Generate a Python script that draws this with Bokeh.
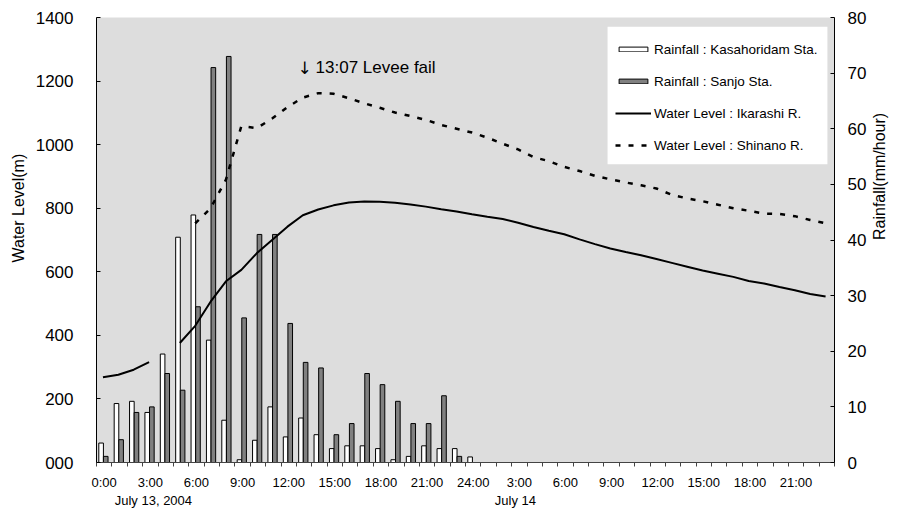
import math
import numpy as np
from bokeh.plotting import figure
from bokeh.models import (ColumnDataSource, Range1d, LinearAxis, FixedTicker,
                          Legend, LegendItem, Label, Title, BoxAnnotation)
from bokeh.transform import dodge
from bokeh.embed import file_html
from bokeh.resources import INLINE

nan = float("nan")

# ---- data ----
hours = list(range(48))                      # hour index from July 13 0:00
rain_hours = list(range(25))
rain_kasahoridam = [3.5, 10.6, 11, 9, 19.5, 40.5, 44.5, 22, 7.6, 0.5, 4, 10, 4.6,
                    8, 5, 2.5, 3, 3, 2.5, 0.5, 1.1, 3, 2.5, 2.5, 1]
rain_sanjo = [1.1, 4.1, 9, 10, 16, 13, 28, 71, 73, 26, 41, 41, 25,
              18, 17, 5, 7, 16, 14, 11, 7, 7, 12, 1.1, 0]
level_ikarashi = [268, 276, 292, 316, nan, 376, 430, 506, 570, 606, 658, 700,
                  742, 778, 796, 809, 818, 821, 820, 817, 812, 805, 797, 790,
                  781, 773, 766, 754, 741, 729, 718, 702, 687, 673, 662, 652,
                  640, 628, 616, 604, 594, 584, 571, 563, 552, 542, 530, 522]
level_shinano = [nan, nan, nan, nan, nan, nan, 752, 800, 890, 1058, 1052, 1082,
                 1118, 1148, 1162, 1160, 1146, 1130, 1116, 1101, 1090, 1078, 1062, 1050,
                 1038, 1022, 1003, 985, 961, 948, 930, 917, 902, 891, 881, 872,
                 862, 842, 831, 822, 811, 800, 792, 783, 782, 775, 763, 753]
x_label_hours = [0, 3, 6, 9, 12, 15, 18, 21, 24, 27, 30, 33, 36, 39, 42, 45]
x_labels = ["0:00", "3:00", "6:00", "9:00", "12:00", "15:00", "18:00", "21:00",
            "24:00", "3:00", "6:00", "9:00", "12:00", "15:00", "18:00", "21:00"]
level_ticks = [0, 200, 400, 600, 800, 1000, 1200, 1400]
rain_ticks = [0, 10, 20, 30, 40, 50, 60, 70, 80]
date_labels = ["July 13, 2004", "July 14"]
date_hours = [3.7, 27.25]

FONT = "Liberation Sans"

p = figure(width=899, height=510, output_backend="svg", toolbar_location=None,
           x_range=Range1d(0, 48), y_range=Range1d(0, 1400),
           min_border_left=96, min_border_right=65, min_border_top=17,
           min_border_bottom=47)
p.extra_y_ranges = {"rain": Range1d(0, 80)}
p.background_fill_color = "#dddddd"
p.border_fill_color = "white"
p.outline_line_color = None
p.grid.visible = False

rain_src = ColumnDataSource(dict(hour=rain_hours, kasa=rain_kasahoridam, sanjo=rain_sanjo))
lvl_src = ColumnDataSource(dict(hour=hours, ika=np.array(level_ikarashi, dtype=float),
                                shi=np.array(level_shinano, dtype=float)))

r_kasa = p.vbar(x=dodge("hour", 0.3, range=p.x_range), top="kasa", width=0.3,
                y_range_name="rain", source=rain_src, fill_color="white",
                line_color="black", line_width=1)
r_sanjo = p.vbar(x=dodge("hour", 0.6, range=p.x_range), top="sanjo", width=0.3,
                 y_range_name="rain", source=rain_src, fill_color="#808080",
                 line_color="black", line_width=1)
r_ika = p.line(x=dodge("hour", 0.42, range=p.x_range), y="ika", source=lvl_src,
               line_color="black", line_width=2)
r_shi = p.line(x=dodge("hour", 0.42, range=p.x_range), y="shi", source=lvl_src,
               line_color="black", line_width=2.5, line_dash="5 8")

# x axis
xa = p.xaxis[0]
xa.ticker = FixedTicker(ticks=[h + 0.5 for h in x_label_hours], minor_ticks=list(range(49)))
xa.major_label_overrides = {h + 0.5: lab for h, lab in zip(x_label_hours, x_labels)}
xa.major_tick_in = 0
xa.major_tick_out = 0
xa.minor_tick_in = 0
xa.minor_tick_out = 4
xa.minor_tick_line_color = "#444444"
xa.axis_line_color = "#444444"
xa.major_label_standoff = 8
xa.major_label_text_font = FONT
xa.major_label_text_font_size = "13px"
xa.major_label_text_color = "black"

# second row of x labels (dates)
da = LinearAxis(ticker=FixedTicker(ticks=date_hours))
da.major_label_overrides = {h: lab for h, lab in zip(date_hours, date_labels)}
da.axis_line_color = None
da.major_tick_line_color = None
da.minor_tick_line_color = None
da.major_tick_in = 0
da.major_tick_out = 0
da.major_label_standoff = 0
da.major_label_text_font = FONT
da.major_label_text_font_size = "13px"
da.major_label_text_color = "black"
p.add_layout(da, "below")

# left axis
ya = p.yaxis[0]
ya.ticker = FixedTicker(ticks=level_ticks)
ya.major_label_overrides = {0: "000"}
ya.major_tick_in = 4
ya.major_tick_out = 0
ya.minor_tick_line_color = None
ya.axis_line_color = "black"
ya.major_label_standoff = 23
ya.major_label_text_font = FONT
ya.major_label_text_font_size = "17px"
ya.major_label_text_color = "black"

# right axis
ra = LinearAxis(y_range_name="rain", ticker=FixedTicker(ticks=rain_ticks))
ra.major_tick_in = 4
ra.major_tick_out = 0
ra.minor_tick_line_color = None
ra.axis_line_color = "black"
ra.major_label_standoff = 13
ra.major_label_text_font = FONT
ra.major_label_text_font_size = "17px"
ra.major_label_text_color = "black"
ra.axis_label = "Rainfall(mm/hour)"
ra.axis_label_orientation = math.pi / 2
ra.axis_label_standoff = 10
ra.axis_label_text_line_height = 0.6
ra.axis_label_text_font = FONT
ra.axis_label_text_font_size = "16px"
ra.axis_label_text_font_style = "normal"
ra.axis_label_text_color = "black"
p.add_layout(ra, "right")

# left title
p.add_layout(Title(text="Water Level(m)", align="left", offset=200, standoff=12,
                   text_font=FONT, text_font_size="16px", text_font_style="normal",
                   text_color="black"), "left")

# annotation
p.add_layout(Label(x=13.07, y=1242, text="\u2193", text_align="left",
                   text_baseline="middle", text_font="DejaVu Sans",
                   text_font_size="17px", text_color="black"))
p.add_layout(Label(x=14.25, y=1242, text="13:07 Levee fail",
                   text_align="left", text_baseline="middle", text_font=FONT,
                   text_font_size="17px", text_color="black"))

# white legend panel
p.add_layout(BoxAnnotation(left=33.24, right=47.54, top=1371, bottom=938,
                           fill_color="white", fill_alpha=1, line_color=None))

legend = Legend(items=[
    LegendItem(label="Rainfall : Kasahoridam Sta.", renderers=[r_kasa]),
    LegendItem(label="Rainfall : Sanjo Sta.", renderers=[r_sanjo]),
    LegendItem(label="Water Level : Ikarashi R.", renderers=[r_ika]),
    LegendItem(label="Water Level : Shinano R.", renderers=[r_shi]),
], location=(519, 303))
legend.margin = 0
legend.padding = 0
legend.spacing = 4
legend.label_height = 28
legend.glyph_height = 6
legend.glyph_width = 36
legend.label_standoff = 3
legend.label_text_font = FONT
legend.label_text_font_size = "13.5px"
legend.label_text_color = "black"
legend.border_line_color = None
legend.background_fill_alpha = 0
p.add_layout(legend)

open("out.html", "w").write(file_html(p, INLINE))
